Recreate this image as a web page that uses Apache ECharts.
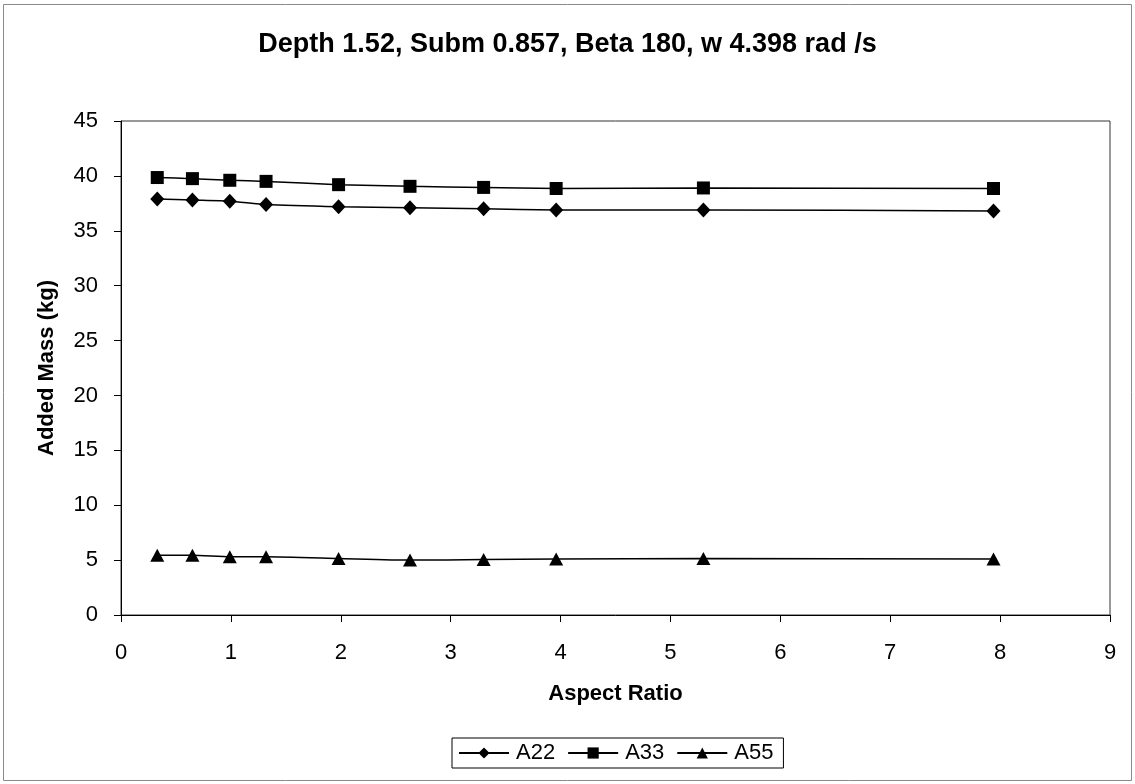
<!DOCTYPE html>
<html>
<head>
<meta charset="utf-8">
<script src="https://cdn.jsdelivr.net/npm/echarts@6/dist/echarts.min.js"></script>
<style>
  html, body { margin: 0; padding: 0; background: #fff; }
  #chart { width: 1135px; height: 784px; }
</style>
</head>
<body>
<div id="chart"></div>
<script>
// Aspect ratios at which the added mass was computed
const aspectRatio = [0.33, 0.65, 0.99, 1.32, 1.98, 2.63, 3.30, 3.96, 5.30, 7.94];

// Added mass coefficients (kg)
const a22 = [37.9, 37.8, 37.7, 37.4, 37.2, 37.1, 37.0, 36.9, 36.9, 36.8];
const a33 = [39.85, 39.75, 39.6, 39.5, 39.2, 39.05, 38.95, 38.85, 38.9, 38.85];
const a55 = [5.45, 5.45, 5.3, 5.3, 5.15, 5.0, 5.05, 5.1, 5.15, 5.1];

const seriesNames = ['A22', 'A33', 'A55'];
const seriesValues = [a22, a33, a55];
const seriesSymbols = ['diamond', 'rect', 'triangle'];
const symbolSizes = [[14, 15], 13, [14, 13]];

const titleText = 'Depth 1.52, Subm 0.857, Beta 180, w 4.398 rad /s';
const xTitle = 'Aspect Ratio';
const yTitle = 'Added Mass (kg)';

const FONT = 'Liberation Sans, Arial, Helvetica, sans-serif';

const chart = echarts.init(document.getElementById('chart'), null, { renderer: 'canvas' });

const series = seriesNames.map((name, i) => ({
  name: name,
  type: 'line',
  data: aspectRatio.map((x, j) => [x, seriesValues[i][j]]),
  symbol: seriesSymbols[i],
  symbolSize: symbolSizes[i],
  smooth: 0.2,
  lineStyle: { color: '#000', width: 1.5 },
  itemStyle: { color: '#000', borderWidth: 0 },
  emphasis: { disabled: true },
  animation: false
}));

chart.setOption({
  animation: false,
  backgroundColor: '#fff',
  title: {
    text: titleText,
    left: 'center',
    top: 26,
    textStyle: { fontFamily: FONT, fontSize: 27, fontWeight: 'bold', color: '#000' }
  },
  graphic: [{
    type: 'rect',
    shape: { x: 3.5, y: 4.5, width: 1128, height: 776 },
    style: { fill: 'none', stroke: '#8a8a8a', lineWidth: 1 },
    silent: true
  }],
  grid: {
    left: 121, right: 25, top: 121, bottom: 169,
    show: true, borderColor: '#333', borderWidth: 1, backgroundColor: 'transparent'
  },
  legend: {
    bottom: 16,
    left: 452,
    data: seriesNames,
    itemWidth: 50,
    itemHeight: 14,
    itemGap: 12,
    padding: [4, 10, 4, 6],
    borderColor: '#000',
    borderWidth: 1,
    textStyle: { fontFamily: FONT, fontSize: 22, color: '#000', padding: [0, 0, 0, 2] }
  },
  xAxis: {
    type: 'value',
    min: 0, max: 9, interval: 1,
    name: xTitle,
    nameLocation: 'middle',
    nameGap: 68,
    nameTextStyle: { fontFamily: FONT, fontSize: 22, fontWeight: 'bold', color: '#000' },
    axisLine: { show: true, lineStyle: { color: '#000', width: 1 } },
    axisTick: { show: true, inside: false, length: 7, lineStyle: { color: '#000' } },
    axisLabel: { fontFamily: FONT, fontSize: 22, color: '#000', margin: 27 },
    splitLine: { show: false }
  },
  yAxis: {
    type: 'value',
    min: 0, max: 45, interval: 5,
    name: yTitle,
    nameLocation: 'middle',
    nameGap: 63,
    nameRotate: 90,
    nameTextStyle: { fontFamily: FONT, fontSize: 22, fontWeight: 'bold', color: '#000' },
    axisLine: { show: true, lineStyle: { color: '#000', width: 1 } },
    axisTick: { show: true, inside: false, length: 7, lineStyle: { color: '#000' } },
    axisLabel: { fontFamily: FONT, fontSize: 22, color: '#000', margin: 23 },
    splitLine: { show: false }
  },
  series: series
});
</script>
</body>
</html>
